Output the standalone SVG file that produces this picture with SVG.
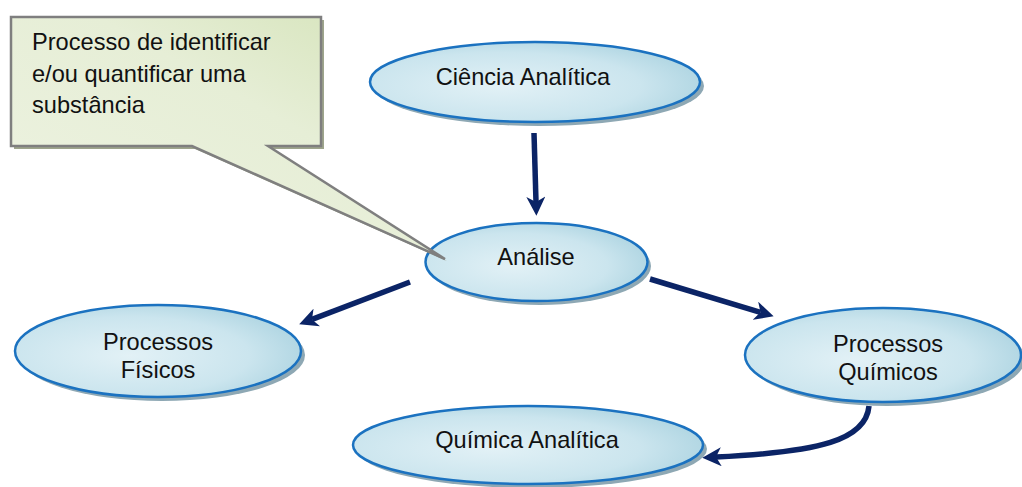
<svg xmlns="http://www.w3.org/2000/svg" width="1022" height="487" viewBox="0 0 1022 487">
<defs>
<radialGradient id="gBlue" cx="0.4" cy="0.55" r="0.7">
<stop offset="0" stop-color="#e2f1f6"/>
<stop offset="0.6" stop-color="#cbe5ee"/>
<stop offset="1" stop-color="#a6d0de"/>
</radialGradient>
<linearGradient id="gGreen" x1="0" y1="1" x2="1" y2="0">
<stop offset="0" stop-color="#eef3e2"/>
<stop offset="0.6" stop-color="#e6eed6"/>
<stop offset="1" stop-color="#d3e2b6"/>
</linearGradient>
<marker id="arr" markerUnits="userSpaceOnUse" markerWidth="19" markerHeight="19" viewBox="0 0 18 18" refX="5" refY="9" orient="auto">
<path d="M0,0 L18,9 L0,18 L5,9 Z" fill="#0b2466"/>
</marker>
</defs>
<style>
.node ellipse.sh{fill:#8ea8b4;}
.node ellipse.bd{fill:url(#gBlue);stroke:#1b72c0;stroke-width:2.5;}
text{font-family:"Liberation Sans",Arial,sans-serif;font-size:23.6px;fill:#111;}
.c{text-anchor:middle;}
.conn path{fill:none;stroke:#0b2466;stroke-width:5.5;marker-end:url(#arr);}
</style>

<g id="ciencia" class="node">
<ellipse class="sh" cx="539" cy="86" rx="165" ry="40"/>
<ellipse class="bd" cx="535" cy="82" rx="165" ry="40"/>
<text class="c" x="523" y="85">Ciência Analítica</text>
</g>

<g id="fisicos" class="node">
<ellipse class="sh" cx="162" cy="355" rx="143" ry="46"/>
<ellipse class="bd" cx="158" cy="351" rx="143" ry="46"/>
<text class="c" x="158" y="350">Processos</text>
<text class="c" x="158" y="378">Físicos</text>
</g>

<g id="quimicos" class="node">
<ellipse class="sh" cx="887" cy="359" rx="138" ry="47"/>
<ellipse class="bd" cx="883" cy="355" rx="138" ry="47"/>
<text class="c" x="888" y="352">Processos</text>
<text class="c" x="888" y="380">Químicos</text>
</g>

<g id="quimica-analitica" class="node">
<ellipse class="sh" cx="532" cy="449" rx="175" ry="39"/>
<ellipse class="bd" cx="528" cy="445" rx="175" ry="39"/>
<text class="c" x="527" y="448">Química Analítica</text>
</g>

<g id="connectors" class="conn">
<path d="M534,133 L536,202"/>
<path d="M410,282 L312,319.4"/>
<path d="M650,279 L760.5,312.3"/>
<path d="M869,406 C866,440 820,452 716,457"/>
</g>

<g id="analise" class="node">
<ellipse class="sh" cx="540" cy="266" rx="111" ry="39"/>
<ellipse class="bd" cx="536.5" cy="262" rx="111" ry="39"/>
<text class="c" x="536" y="265">Análise</text>
</g>

<g id="callout">
<path d="M14,20 H324 V149 H271 L447,261 L195,149 H14 Z" fill="#9ea58c"/>
<path d="M11,17 H321 V146 H268 L445,259 L192,146 H11 Z" fill="url(#gGreen)" stroke="#7f7f7f" stroke-width="2.5" stroke-linejoin="miter"/>
<text x="32" y="50">Processo de identificar</text>
<text x="32" y="82">e/ou quantificar uma</text>
<text x="32" y="113">substância</text>
</g>
</svg>
